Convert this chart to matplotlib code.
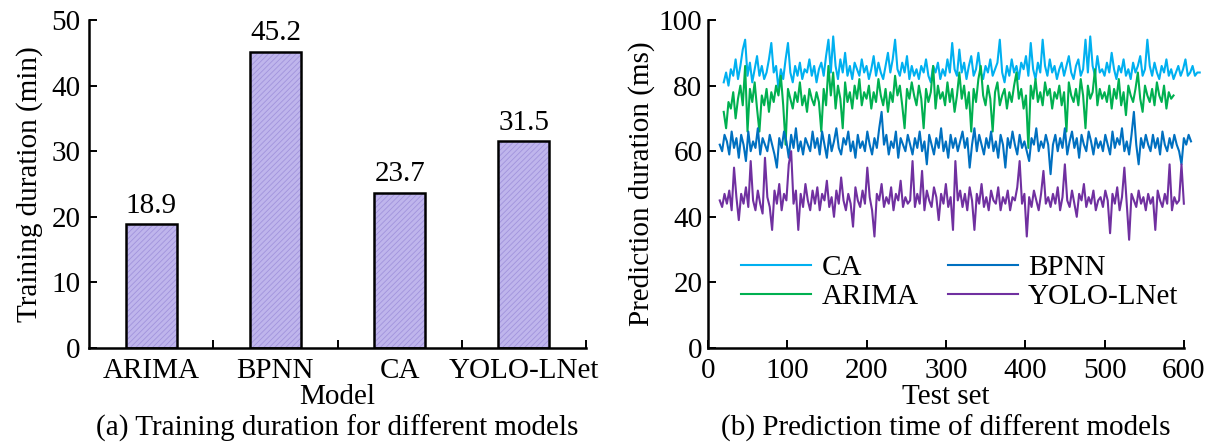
import numpy as np
import matplotlib
matplotlib.use('Agg')
import matplotlib.pyplot as plt

plt.rcParams['font.family'] = ['Liberation Serif', 'DejaVu Serif']
plt.rcParams['hatch.linewidth'] = 0.6

# (a) training duration
models = ['ARIMA', 'BPNN', 'CA', 'YOLO-LNet']
train_min = [18.9, 45.2, 23.7, 31.5]

# (b) prediction duration (ms), one value every 3 test samples
ca_start = 20
ca_ms = [81, 84, 80, 85, 83, 88, 82, 86, 91, 94, 83, 87, 81, 85, 89, 83, 86, 82, 84, 88,
         93, 84, 86, 79, 85, 82, 88, 93, 84, 81, 86, 83, 87, 82, 85, 84, 88, 83, 86, 81,
         85, 87, 83, 89, 94, 84, 95, 86, 82, 88, 84, 90, 83, 86, 82, 87, 85, 83, 88, 84,
         86, 82, 85, 89, 83, 87, 84, 82, 86, 90, 84, 88, 94, 85, 83, 87, 84, 89, 82, 86,
         83, 85, 82, 86, 84, 88, 83, 81, 86, 84, 87, 82, 85, 83, 88, 84, 93, 85, 83, 91,
         84, 87, 82, 86, 89, 83, 85, 90, 84, 82, 86, 84, 88, 83, 85, 87, 94, 84, 81, 86,
         83, 88, 84, 86, 82, 87, 85, 89, 83, 93, 85, 82, 87, 84, 94, 86, 83, 88, 84, 86,
         82, 85, 87, 83, 86, 89, 84, 82, 86, 88, 83, 85, 94, 84, 95, 86, 83, 89, 84, 85,
         83, 87, 84, 90, 85, 82, 86, 84, 88, 83, 85, 82, 87, 84, 86, 89, 83, 85, 94, 86,
         83, 87, 84, 82, 86, 84, 88, 83, 85, 82, 84, 86, 83, 85, 88, 83, 84, 86, 83, 84,
         84]

arima_start = 20
arima_ms = [72, 67, 75, 73, 78, 70, 76, 80, 74, 86, 66, 79, 75, 81, 73, 66, 77, 74, 79, 72,
            78, 75, 80, 77, 83, 74, 62, 79, 76, 73, 78, 75, 81, 74, 77, 72, 79, 76, 74, 78,
            75, 66, 79, 74, 86, 77, 84, 73, 80, 76, 67, 81, 75, 78, 73, 80, 76, 82, 74, 78,
            76, 80, 73, 78, 75, 82, 77, 74, 79, 72, 78, 75, 83, 77, 80, 74, 67, 79, 76, 81,
            77, 74, 80, 76, 67, 79, 75, 78, 86, 73, 80, 76, 78, 74, 81, 75, 79, 72, 77, 84,
            76, 80, 73, 78, 66, 79, 75, 82, 86, 77, 74, 80, 76, 66, 78, 81, 74, 77, 79, 73,
            78, 75, 80, 84, 76, 79, 73, 77, 61, 80, 76, 82, 75, 78, 74, 81, 77, 79, 73, 78,
            76, 80, 74, 78, 66, 81, 77, 75, 79, 74, 82, 77, 67, 80, 76, 78, 85, 74, 79, 76,
            78, 75, 80, 73, 79, 76, 82, 74, 78, 71, 80, 77, 75, 79, 84, 76, 72, 80, 77, 75,
            79, 74, 81, 77, 75, 80, 73, 78, 76, 77]

bpnn_start = 15
bpnn_ms = [62, 60, 65, 63, 59, 66, 61, 64, 58, 65, 62, 57, 66, 60, 63, 61, 67, 59, 64, 62,
           60, 65, 62, 59, 55, 64, 61, 66, 63, 58, 65, 61, 67, 60, 63, 59, 64, 62, 60, 66,
           61, 64, 59, 66, 62, 58, 65, 60, 63, 67, 61, 59, 64, 62, 66, 60, 63, 58, 65, 61,
           63, 60, 66, 62, 59, 64, 61, 67, 72, 62, 65, 59, 63, 61, 66, 58, 64, 62, 60, 65,
           62, 59, 64, 61, 66, 60, 63, 56, 65, 62, 59, 64, 61, 67, 60, 63, 58, 65, 61, 64,
           60, 63, 66, 61, 64, 55, 62, 67, 60, 65, 62, 59, 64, 61, 66, 60, 63, 58, 65, 62,
           55, 64, 61, 66, 62, 59, 65, 61, 63, 60, 57, 64, 62, 67, 60, 63, 61, 65, 62, 53,
           62, 65, 60, 64, 61, 67, 59, 63, 66, 61, 64, 58, 65, 62, 60, 66, 63, 59, 64, 61,
           63, 60, 65, 62, 59, 66, 61, 64, 62, 67, 60, 63, 59, 65, 72, 62, 56, 64, 61, 65,
           62, 60, 65, 61, 64, 59, 66, 62, 60, 64, 61, 65, 62, 60, 56, 64, 62, 65, 63]

yolo_start = 15
yolo_ms = [45, 43, 47, 44, 48, 42, 55, 46, 39, 47, 44, 49, 43, 57, 45, 42, 48, 44, 41, 58,
           46, 43, 36, 48, 44, 50, 42, 47, 45, 56, 60, 44, 48, 36, 47, 43, 50, 45, 42, 48,
           44, 49, 42, 47, 45, 51, 43, 46, 40, 48, 44, 52, 45, 42, 47, 44, 37, 49, 45, 43,
           48, 44, 55, 46, 42, 34, 47, 45, 50, 43, 46, 44, 49, 42, 47, 45, 51, 43, 46, 44,
           45, 57, 43, 47, 44, 54, 42, 48, 45, 43, 49, 46, 39, 47, 44, 50, 43, 46, 36, 57,
           45, 48, 43, 47, 42, 49, 45, 36, 47, 44, 50, 43, 46, 42, 48, 45, 44, 49, 42, 46,
           44, 48, 42, 46, 45, 49, 57, 44, 47, 34, 46, 43, 48, 45, 42, 47, 54, 44, 46, 43,
           47, 44, 49, 42, 46, 56, 45, 43, 48, 44, 40, 47, 45, 50, 43, 46, 44, 48, 42, 45,
           46, 43, 48, 45, 35, 47, 44, 49, 42, 46, 55, 44, 33, 47, 45, 43, 48, 44, 46, 42,
           47, 44, 46, 36, 48, 45, 43, 47, 44, 56, 42, 46, 44, 45, 56, 44]
step = 3

# legend order: first column CA, ARIMA; second column BPNN, YOLO-LNet
series = [('CA', ca_start, ca_ms, '#00b0f0'),
          ('ARIMA', arima_start, arima_ms, '#00b050'),
          ('BPNN', bpnn_start, bpnn_ms, '#0070c0'),
          ('YOLO-LNet', yolo_start, yolo_ms, '#7030a0')]

fig = plt.figure(figsize=(12.1, 4.43), dpi=100)
fs = 21

# ---- left: bar chart
ax1 = fig.add_axes([0.0736, 0.2144, 0.4107, 0.7404])
pos = np.arange(len(models))
ax1.bar(pos, train_min, width=0.41, color='#bfb5ec', edgecolor='#a193dc',
        hatch='//////', linewidth=0)
ax1.bar(pos, train_min, width=0.41, fill=False, edgecolor='black', linewidth=1.8)
for p, v in zip(pos, train_min):
    ax1.text(p, v + 0.8, f'{v}', ha='center', va='bottom', fontsize=fs)
ax1.set_xlim(-0.5, 3.5)
ax1.set_ylim(0, 50)
ax1.set_xticks(pos)
ax1.set_xticklabels(models)
ax1.set_xticks(np.arange(0.5, 4.0, 1.0), minor=True)
ax1.tick_params(axis='x', which='major', length=0, pad=7, labelsize=fs)
ax1.tick_params(axis='x', which='minor', direction='in', length=6, width=1.4)
ax1.set_yticks(np.arange(0, 51, 10))
ax1.tick_params(axis='y', direction='in', length=6, width=1.4, labelsize=fs, pad=6)
ax1.set_ylabel('Training duration (min)', fontsize=fs, labelpad=6)
ax1.set_xlabel('Model', fontsize=fs, labelpad=0)
for s in ['top', 'right']:
    ax1.spines[s].set_visible(False)
for s in ['left', 'bottom']:
    ax1.spines[s].set_linewidth(1.8)

# ---- right: prediction time lines
ax2 = fig.add_axes([0.585, 0.2144, 0.3934, 0.7404])
for name, start, vals, col in series:
    x = start + step * np.arange(len(vals))
    ax2.plot(x, vals, color=col, linewidth=1.5, label=name, clip_on=False)
ax2.set_xlim(0, 600)
ax2.set_ylim(0, 100)
ax2.set_xticks(np.arange(0, 601, 100))
ax2.set_yticks(np.arange(0, 101, 20))
ax2.tick_params(direction='in', length=6, width=1.4, labelsize=fs)
ax2.tick_params(axis='y', pad=4)
ax2.tick_params(axis='x', pad=7)
ax2.set_xlabel('Test set', fontsize=fs, labelpad=0)
ax2.set_ylabel('Prediction duration (ms)', fontsize=fs, labelpad=3)
for s in ['top', 'right']:
    ax2.spines[s].set_visible(False)
for s in ['left', 'bottom']:
    ax2.spines[s].set_linewidth(1.8)
ax2.legend(ncol=2, loc='lower left', bbox_to_anchor=(0.015, 0.035), frameon=False,
           fontsize=fs, handlelength=2.4, handletextpad=0.35, columnspacing=1.0,
           labelspacing=0.1)

fig.text(0.2790, 0.034, '(a) Training duration for different models',
         ha='center', va='center', fontsize=fs)
fig.text(0.7817, 0.034, '(b) Prediction time of different models',
         ha='center', va='center', fontsize=fs)

fig.savefig('out.png', dpi=100)
